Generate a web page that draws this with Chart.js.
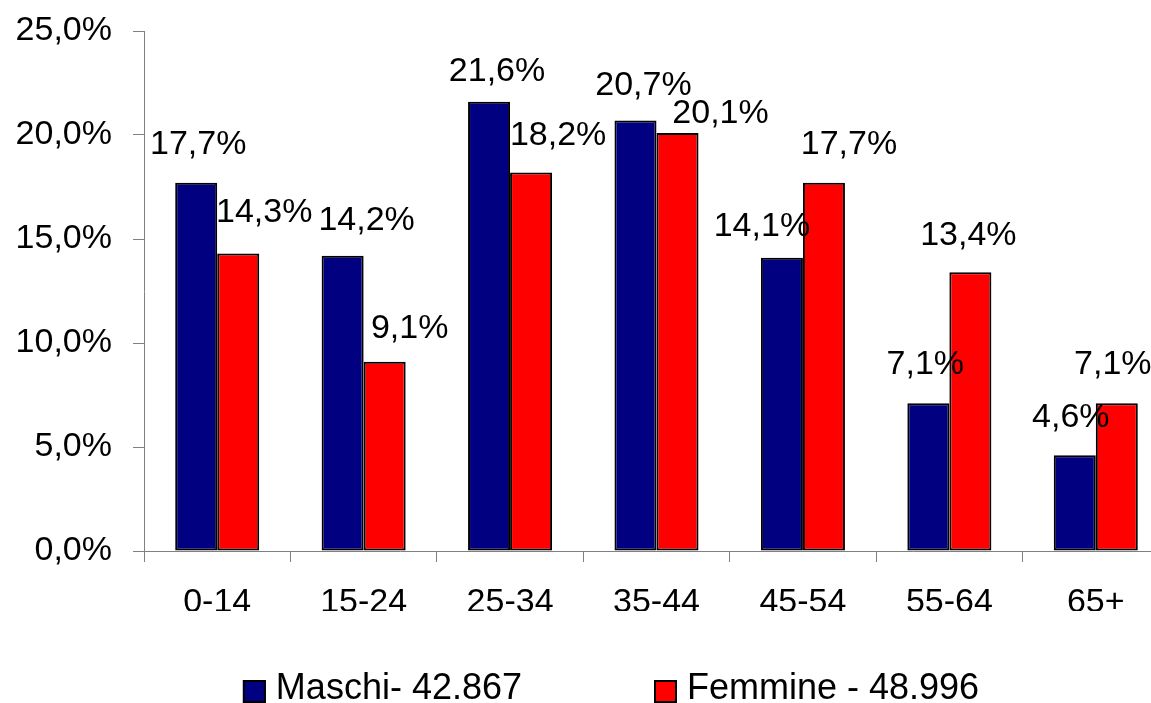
<!DOCTYPE html>
<html>
<head>
<meta charset="utf-8">
<script src="https://cdn.jsdelivr.net/npm/chart.js@4/dist/chart.umd.min.js"></script>
<style>
  html, body { margin: 0; padding: 0; background: #fff; overflow: hidden; }
  canvas { display: block; }
</style>
</head>
<body>
<canvas id="chartCanvas" width="1200" height="720" style="width:1200px;height:720px"></canvas>
<script>
// fasce d'eta e percentuali
const fasce = ['0-14', '15-24', '25-34', '35-44', '45-54', '55-64', '65+'];
const maschi = [17.7, 14.2, 21.6, 20.7, 14.1, 7.1, 4.6];
const femmine = [14.3, 9.1, 18.2, 20.1, 17.7, 13.4, 7.1];
const nomiSerie = ['Maschi- 42.867', 'Femmine - 48.996'];
const yTicks = [0, 5, 10, 15, 20, 25];

// spostamenti delle etichette (px), come nel grafico originale
const labelDx = [[2, 24, 8, 8, -20, -3, -4], [26, 25, 27, 43, 25, -2, -4]];
const labelDy = [[29, 26, 21, 25, 22, 29, 28], [32, 24, 27, 10, 29, 27, 29]];

const FONT = '"Liberation Sans", Arial, sans-serif';
const pct = v => v.toFixed(1).replace('.', ',') + '%';

const valueLabels = {
  id: 'valueLabels',
  afterDatasetsDraw(chart) {
    const ctx = chart.ctx;
    ctx.save();
    ctx.font = '34px ' + FONT;
    ctx.fillStyle = '#000';
    ctx.textAlign = 'center';
    ctx.textBaseline = 'alphabetic';
    chart.data.datasets.forEach((ds, i) => {
      chart.getDatasetMeta(i).data.forEach((bar, j) => {
        ctx.fillText(pct(ds.data[j]), bar.x + labelDx[i][j], bar.y - labelDy[i][j]);
      });
    });
    ctx.restore();
  }
};

const bottomLegend = {
  id: 'bottomLegend',
  afterDraw(chart) {
    const ctx = chart.ctx;
    const box = 23, gapText = 10, gapItems = 132, center = 611, top = 680;
    ctx.save();
    ctx.font = '36px ' + FONT;
    const ds = chart.data.datasets;
    const widths = ds.map(d => box + gapText + ctx.measureText(d.label).width);
    let x = center - (widths[0] + widths[1] + gapItems) / 2;
    ds.forEach((d, i) => {
      ctx.fillStyle = d.backgroundColor;
      ctx.fillRect(x, top, box, box);
      ctx.strokeStyle = '#000';
      ctx.lineWidth = 2;
      ctx.strokeRect(x + 1, top + 1, box - 2, box - 2);
      ctx.fillStyle = '#000';
      ctx.textAlign = 'left';
      ctx.textBaseline = 'alphabetic';
      ctx.fillText(d.label, x + box + gapText, top + 19);
      x += widths[i] + gapItems;
    });
    ctx.restore();
  }
};

const ctx = document.querySelector('#chartCanvas');
const graph = new Chart(ctx, {
  type: 'bar',
  data: {
    labels: fasce,
    datasets: [
      {
        label: nomiSerie[0],
        data: maschi,
        backgroundColor: '#000080',
        borderColor: '#000',
        borderWidth: 2,
        borderSkipped: false,
        categoryPercentage: 0.574,
        barPercentage: 1
      },
      {
        label: nomiSerie[1],
        data: femmine,
        backgroundColor: '#ff0000',
        borderColor: '#000',
        borderWidth: 2,
        borderSkipped: false,
        categoryPercentage: 0.574,
        barPercentage: 1
      }
    ]
  },
  options: {
    responsive: false,
    animation: false,
    devicePixelRatio: 1,
    layout: {
      padding: { left: 0, top: 31, right: 31, bottom: 109 }
    },
    scales: {
      x: {
        grid: {
          drawOnChartArea: false,
          tickLength: 11,
          tickColor: '#808080',
          offset: true
        },
        border: { color: '#808080', width: 1 },
        ticks: {
          color: '#000',
          font: { family: FONT, size: 34 },
          padding: 20,
          maxRotation: 0
        },
        afterFit: scale => { scale.height = 60; }
      },
      y: {
        min: 0,
        max: 25,
        afterBuildTicks: scale => { scale.ticks = yTicks.map(v => ({ value: v })); },
        grid: {
          drawOnChartArea: false,
          tickLength: 11,
          tickColor: '#808080'
        },
        border: { color: '#808080', width: 1 },
        ticks: {
          color: '#000',
          font: { family: FONT, size: 34 },
          padding: 21,
          callback: v => pct(v)
        },
        afterFit: scale => {
          scale.width = 144;
          scale.paddingTop = 0;
          scale.paddingBottom = 0;
        }
      }
    },
    plugins: {
      legend: { display: false },
      tooltip: { enabled: false },
      title: { display: false }
    }
  },
  plugins: [valueLabels, bottomLegend]
});
</script>
</body>
</html>
